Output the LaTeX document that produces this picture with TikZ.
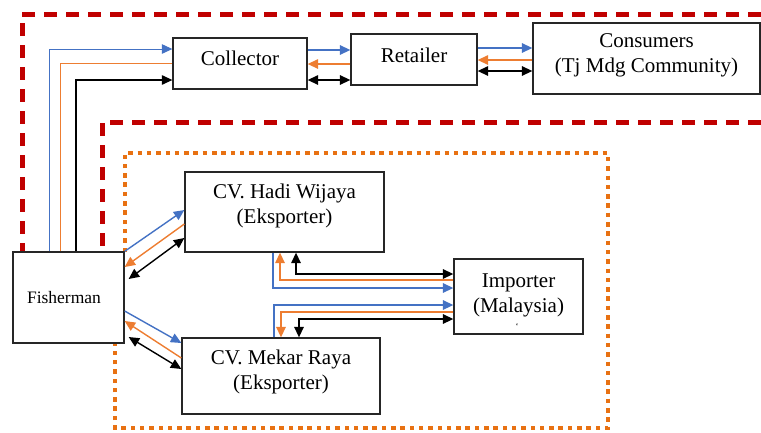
\documentclass[tikz,border=0pt]{standalone}
\usepackage{fontspec}
\setmainfont{Liberation Serif}
\usetikzlibrary{arrows.meta}
\definecolor{dred}{HTML}{C00000}
\definecolor{dorange}{RGB}{232,113,18}
\definecolor{ablue}{HTML}{4472C4}
\definecolor{aorange}{HTML}{ED7D31}
\tikzset{
  box/.style={draw=black!85, line width=1.3pt, fill=white, inner sep=0pt},
  txt/.style={font=\fontsize{21}{25}\selectfont, align=center, inner sep=0pt},
  redzone/.style={draw=dred, line width=5pt, dash pattern=on 13pt off 9pt},
  orzone/.style={draw=dorange, line width=4.5pt, dash pattern=on 4.5pt off 4.8pt},
  tip/.tip={Triangle[length=10.5pt,width=9.5pt]},
  fb/.style={draw=ablue, line width=1.4pt, -tip},
  fo/.style={draw=aorange, line width=1.4pt, -tip},
  fk/.style={draw=black, line width=1.4pt, tip-tip},
  fon/.style={draw=aorange, line width=1.1pt},
}
\begin{document}
\begin{tikzpicture}[x=1pt,y=-1pt]
\useasboundingbox (0,0) rectangle (761,432);
% zones
\draw[redzone] (761,14) -- (22,14) -- (22,252);
\draw[redzone] (761,122) -- (102,122) -- (102,252);
\draw[orzone] (125,252) -- (125,153) -- (608,153) -- (608,428) -- (115,428) -- (115,343);
% boxes
\node[box, minimum width=111pt, minimum height=91pt] (fish) at (68.5,297.5) {};
\node[txt, font=\fontsize{17.5}{20}\selectfont] (fishT) at (64,298) {Fisherman};
\node[box, minimum width=134pt, minimum height=51pt] (coll) at (240,63.5) {};
\node[txt] (collT) at (240,58) {Collector};
\node[box, minimum width=126pt, minimum height=51pt] (ret) at (414,59.5) {};
\node[txt] (retT) at (414,55) {Retailer};
\node[box, minimum width=227pt, minimum height=71pt] (cons) at (646.5,58.5) {};
\node[txt] (consT) at (646.5,55.5) {Consumers\\(Tj Mdg Community)};
\node[box, minimum width=199pt, minimum height=80pt] (hadi) at (284.5,212) {};
\node[txt] (hadiT) at (284.5,205.5) {CV. Hadi Wijaya\\(Eksporter)};
\node[box, minimum width=198pt, minimum height=76pt] (mek) at (281,376) {};
\node[txt] (mekT) at (281,371.5) {CV. Mekar Raya\\(Eksporter)};
\node[box, minimum width=129pt, minimum height=75pt] (imp) at (518.5,296.5) {};
\node[txt] (impT) at (518.5,295) {Importer\\(Malaysia)};
\node[inner sep=0pt, font=\fontsize{9}{9}\selectfont] (tick) at (517,326) {`};
% fisherman -> collector
\draw[fb, line width=1pt] (fish.north -| 49,0) |- (coll.west |- 0,49);
\draw[fon, line width=0.8pt] (fish.north -| 60,0) |- (coll.west |- 0,63);
\draw[draw=black, line width=1.2pt, -tip] (fish.north -| 76,0) |- (coll.west |- 0,80);
% collector <-> retailer
\draw[fb] (coll.east |- 0,50) -- (ret.west |- 0,50);
\draw[fo] (ret.west |- 0,64) -- (coll.east |- 0,64);
\draw[fk] (coll.east |- 0,80) -- (ret.west |- 0,80);
% retailer <-> consumers
\draw[fb] (ret.east |- 0,48) -- (cons.west |- 0,48);
\draw[fo] (cons.west |- 0,60) -- (ret.east |- 0,60);
\draw[fk] (ret.east |- 0,71) -- (cons.west |- 0,71);
% fisherman <-> Hadi
\draw[fb] (fish.north east) -- (hadi.west |- 0,210);
\draw[fo] (hadi.west |- 0,224) -- (fish.east |- 0,267);
\draw[fk] (hadi.west |- 0,238) -- ([xshift=4pt]fish.east |- 0,279);
% fisherman <-> Mekar
\draw[fb] (fish.east |- 0,311) -- (mek.west |- 0,343);
\draw[fo] (mek.west |- 0,358) -- (fish.east |- 0,321);
\draw[fk] ([xshift=4pt]fish.east |- 0,337) -- (mek.west |- 0,369);
% Hadi <-> importer
\draw[fb] (hadi.south -| 273,0) |- (imp.west |- 0,288);
\draw[fo] (imp.west |- 0,280) -| (hadi.south -| 280,0);
\draw[fk] (hadi.south -| 296,0) |- (imp.west |- 0,274);
% Mekar <-> importer
\draw[fb] (mek.north -| 274,0) |- (imp.west |- 0,305);
\draw[fo] (imp.west |- 0,312) -| (mek.north -| 281,0);
\draw[fk] (mek.north -| 299,0) |- (imp.west |- 0,319);
\end{tikzpicture}
\end{document}
